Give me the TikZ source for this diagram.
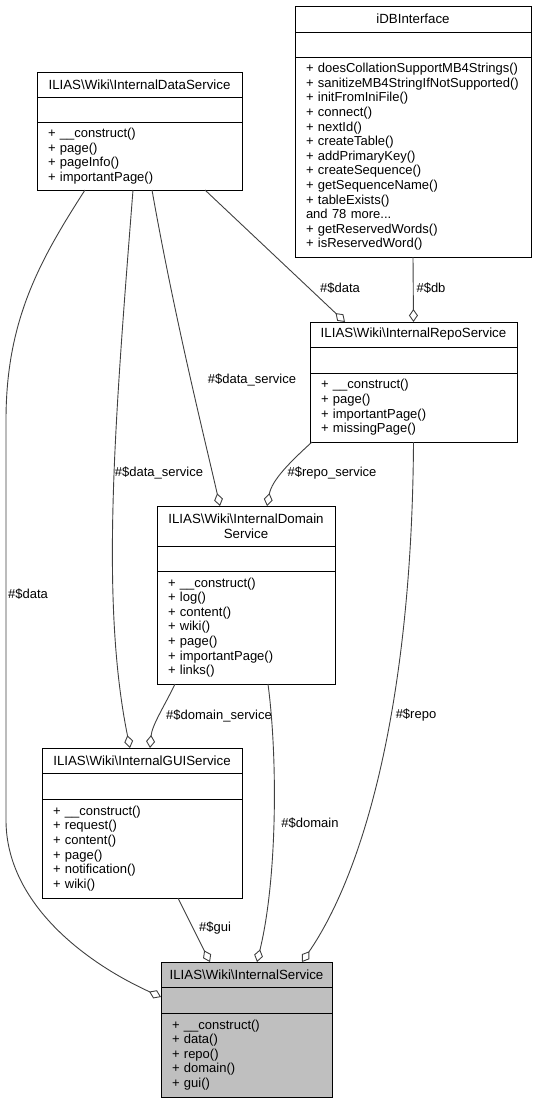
\documentclass[tikz,border=0pt]{standalone}
\usepackage{fontspec}
\setmainfont{Liberation Sans}
\usetikzlibrary{positioning,arrows.meta}

\definecolor{srvgrey}{HTML}{BFBFBF}
\definecolor{edgegrey}{HTML}{404040}
\newcommand{\nsep}{\textbackslash}

\tikzset{
  head/.style={draw, line width=1pt, outer sep=0pt, inner xsep=5pt, inner ysep=0pt,
    text width=#1, align=center, minimum height=25pt, font=\fontsize{13.3}{14.6}\selectfont},
  attr/.style={draw, line width=1pt, outer sep=0pt, inner xsep=5pt, inner ysep=0pt,
    text width=#1, minimum height=26pt},
  meth/.style={draw, line width=1pt, outer sep=0pt, inner xsep=11pt, inner ysep=0pt,
    text width=#1, align=left, font=\fontsize{13}{14.6}\selectfont},
  link/.style={draw=edgegrey, line width=0.9pt, -{Diamond[open, length=13pt, width=9pt]}},
  lbl/.style={inner sep=0pt, font=\fontsize{13}{14}\selectfont},
}

\begin{document}
\begin{tikzpicture}[x=1pt, y=-1pt]
  \useasboundingbox (0,0) rectangle (537,1103);

  \node[head=195pt, anchor=north west] (data) at (37,72) {ILIAS\nsep Wiki\nsep InternalDataService};
  \node[attr=195pt, minimum height=25pt, below=0pt of data] (dataA) {};
  \node[meth=183pt, minimum height=68pt, below=0pt of dataA] (dataM) {+ \_\_construct()\\+ page()\\+ pageInfo()\\+ importantPage()};

  \node[head=226pt, minimum height=26pt, anchor=north west] (db) at (295,6) {iDBInterface};
  \node[attr=226pt, minimum height=25pt, below=0pt of db] (dbA) {};
  \node[meth=214pt, minimum height=200pt, below=0pt of dbA] (dbM) {+ doesCollationSupportMB4Strings()\\+ sanitizeMB4StringIfNotSupported()\\+ initFromIniFile()\\+ connect()\\+ nextId()\\+ createTable()\\+ addPrimaryKey()\\+ createSequence()\\+ getSequenceName()\\+ tableExists()\\and 78 more...\\+ getReservedWords()\\+ isReservedWord()};

  \node[head=197pt, anchor=north west] (repo) at (310,322) {ILIAS\nsep Wiki\nsep InternalRepoService};
  \node[attr=197pt, below=0pt of repo] (repoA) {};
  \node[meth=185pt, minimum height=69pt, below=0pt of repoA] (repoM) {+ \_\_construct()\\+ page()\\+ importantPage()\\+ missingPage()};

  \node[head=168pt, minimum height=40pt, anchor=north west] (dom) at (157,506) {ILIAS\nsep Wiki\nsep InternalDomain\\Service};
  \node[attr=168pt, minimum height=25pt, below=0pt of dom] (domA) {};
  \node[meth=156pt, minimum height=113pt, below=0pt of domA] (domM) {+ \_\_construct()\\+ log()\\+ content()\\+ wiki()\\+ page()\\+ importantPage()\\+ links()};

  \node[head=190pt, anchor=north west] (gui) at (42,748) {ILIAS\nsep Wiki\nsep InternalGUIService};
  \node[attr=190pt, below=0pt of gui] (guiA) {};
  \node[meth=178pt, minimum height=99pt, below=0pt of guiA] (guiM) {+ \_\_construct()\\+ request()\\+ content()\\+ page()\\+ notification()\\+ wiki()};

  \node[head=161pt, fill=srvgrey, anchor=north west] (srv) at (161,962) {ILIAS\nsep Wiki\nsep InternalService};
  \node[attr=161pt, fill=srvgrey, below=0pt of srv] (srvA) {};
  \node[meth=149pt, fill=srvgrey, minimum height=84pt, below=0pt of srvA] (srvM) {+ \_\_construct()\\+ data()\\+ repo()\\+ domain()\\+ gui()};

  \draw[link] ([xshift=-54.5pt]dataM.south) .. controls (40,260) and (6,320) .. (6,420) -- (6,820) .. controls (6,900) and (80,960) .. ([yshift=3pt]srvA.west);
  \draw[link] ([xshift=-6.5pt]dataM.south) .. controls (115,420) and (100,600) .. ([xshift=-12pt]gui.north);
  \draw[link] ([xshift=12.5pt]dataM.south) .. controls (175,320) and (205,440) .. ([xshift=-26pt]dom.north);
  \draw[link] ([xshift=65.5pt]dataM.south) -- ([xshift=-68.5pt]repo.north);
  \draw[link] (dbM.south) -- (repo.north);
  \draw[link] ([xshift=2pt]repoM.south west) .. controls (290,462) and (272,480) .. ([xshift=21pt]dom.north);
  \draw[link] ([xshift=-71pt]domM.south) .. controls (165,705) and (152,725) .. ([xshift=8pt]gui.north);
  \draw[link] ([xshift=22pt]domM.south) .. controls (278,760) and (277,880) .. ([xshift=10.5pt]srv.north);
  \draw[link] (repoM.south) .. controls (412,700) and (365,870) .. ([xshift=55.5pt]srv.north);
  \draw[link] ([xshift=36pt]guiM.south) -- ([xshift=-36.5pt]srv.north);

  \node[lbl] (lData) at (28,594) {\#\$data};
  \node[lbl] (lDataGui) at (159,473) {\#\$data\_service};
  \node[lbl] (lDataDom) at (252,380) {\#\$data\_service};
  \node[lbl] (lDataRepo) at (340,288) {\#\$data};
  \node[lbl] (lDb) at (431,288) {\#\$db};
  \node[lbl] (lRepoDom) at (332,473) {\#\$repo\_service};
  \node[lbl] (lDomGui) at (219,716) {\#\$domain\_service};
  \node[lbl] (lDom) at (310,823) {\#\$domain};
  \node[lbl] (lRepo) at (416,715) {\#\$repo};
  \node[lbl] (lGui) at (215,928) {\#\$gui};
\end{tikzpicture}
\end{document}
